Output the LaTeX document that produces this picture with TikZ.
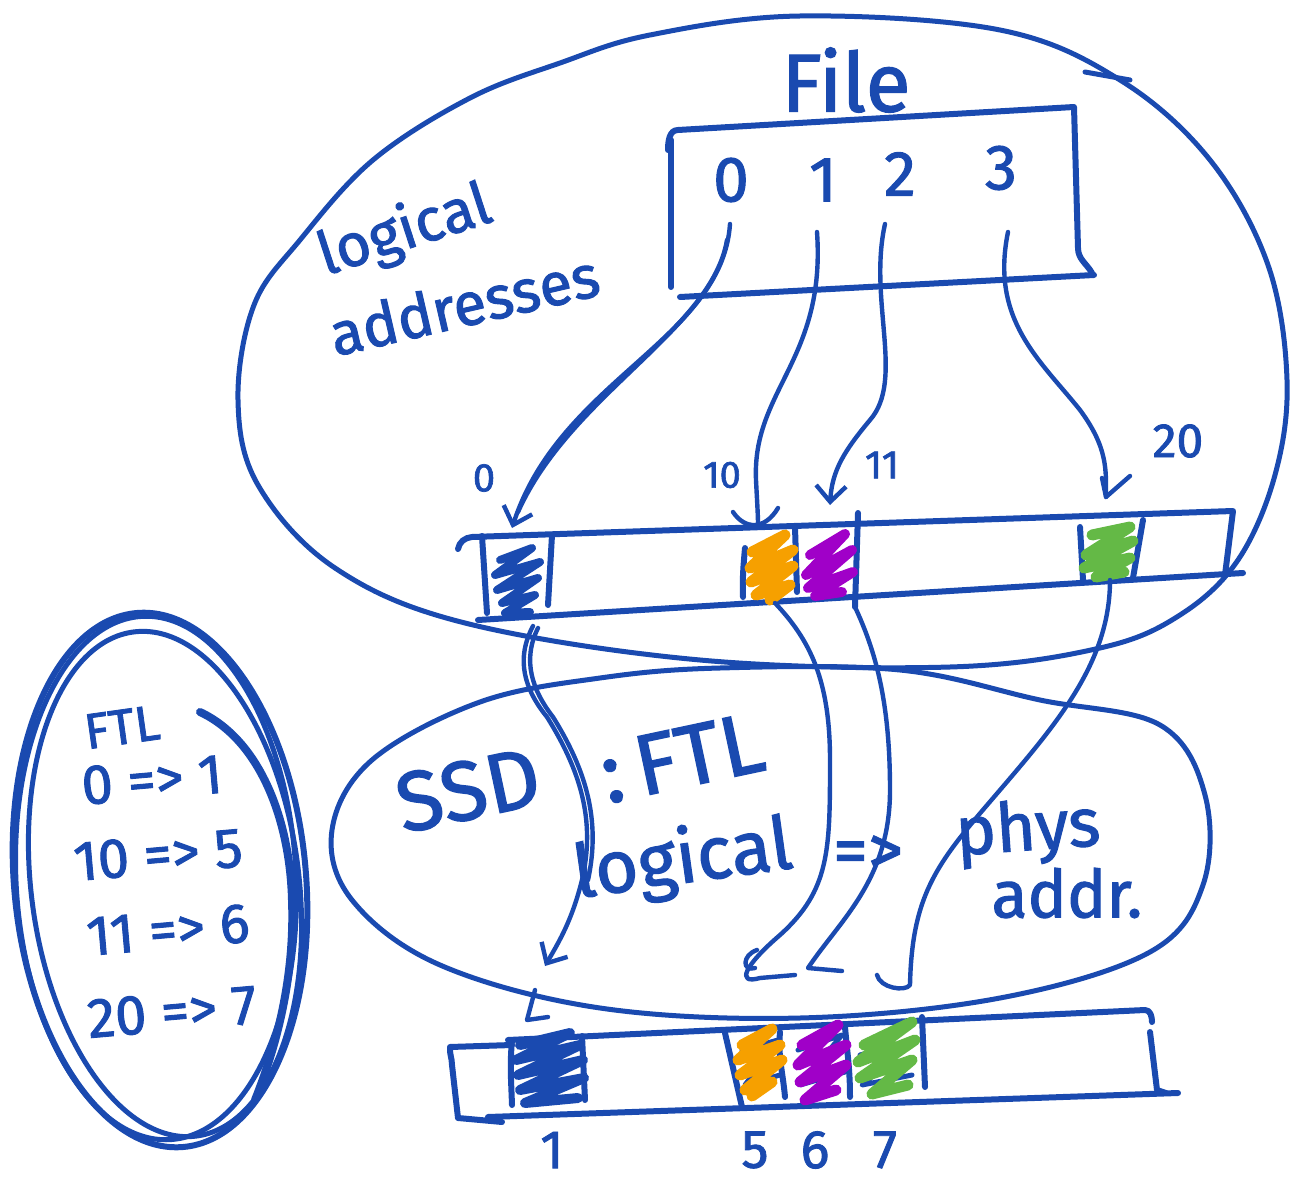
\documentclass[tikz,border=0pt]{standalone}
\usepackage{fontspec}
\setmainfont{Fira Sans}[FakeBold=1.6]
\usetikzlibrary{arrows.meta}
\definecolor{ink}{RGB}{26,74,176}
\definecolor{inkorange}{RGB}{246,160,0}
\definecolor{inkpurple}{RGB}{160,0,200}
\definecolor{inkgreen}{RGB}{100,185,70}
\tikzset{
  pen/.style={draw=ink, line width=6pt, line cap=round, line join=round},
  conn/.style={draw=ink, line width=4.4pt, line cap=round, line join=round},
  tip/.style={-{Straight Barb[length=16pt,width=30pt,line width=4.4pt]}},
  scrib/.style={line width=#1, line cap=round, line join=round},
  hand/.style={text=ink, inner sep=0pt},
}
\newcommand{\fs}[1]{\fontsize{#1}{#1}\selectfont}
\begin{document}
\begin{tikzpicture}[x=1pt,y=-1pt]
\fill[white] (0,0) rectangle (1296,1190);
\useasboundingbox (0,0) rectangle (1296,1190);

% ---------- big ellipse (logical addresses)
\draw[pen, line width=5pt] plot[smooth cycle, tension=0.6] coordinates {
 (800,16) (1000,30) (1120,80) (1210,160) (1268,265) (1287,380) (1275,475)
 (1238,560) (1180,615) (1100,648) (950,667) (700,660) (465,623)
 (335,568) (258,485) (238,400) (254,305) (300,240) (373,160) (470,98)
 (560,63) (650,35)};
\draw[pen, line width=5pt] (1085,72) -- (1130,80);

% ---------- SSD ellipse
\draw[pen, line width=5pt] plot[smooth cycle, tension=0.6] coordinates {
 (720,668) (900,670) (1040,700) (1160,725) (1205,795) (1203,885) (1150,952)
 (1000,998) (800,1018) (600,1008) (440,965) (352,900) (332,830) (372,760)
 (480,702) (600,678)};

% ---------- File box
\node[hand, font=\fs{82}] (file) at (846,80) {File};
\draw[pen] (668,150) to[out=90,in=180] (678,130) -- (1074,107) -- (1078,248)
  to[out=-90,in=120] (1092,273);
\draw[pen] (671,140) -- (671,287);
\draw[pen] (680,297) -- (1094,275);
\node[hand, font=\fs{64}] (n0) at (731,180) {0};
\node[hand, font=\fs{64}] (n1) at (823,180) {1};
\node[hand, font=\fs{64}] (n2) at (900,174) {2};
\node[hand, font=\fs{64}] (n3) at (1001,168) {3};
\coordinate (f0) at (730,224);
\coordinate (f1) at (817,232);
\coordinate (f2) at (885,224);
\coordinate (f3) at (1008,232);

% ---------- logical addresses
\node[hand, font=\fs{60}, rotate=18] (lg) at (405,232) {logical};
\node[hand, font=\fs{60}, rotate=13] (ad) at (464,304) {addresses};

% ---------- top strip
\draw[pen] (458,549) to[out=80,in=185] (472,537) -- (1233,511) -- (1225,575);
\draw[pen] (478,620) -- (1243,573);
\draw[pen] (482,536) -- (487,613);
\draw[pen] (552,535) -- (548,605);
\draw[pen] (745,548) to[out=-95,in=92] (743,597);
\draw[pen] (795,527) -- (797,592);
\draw[pen] (858,513) -- (855,607);
\draw[pen] (1080,527) -- (1083,580);
\draw[pen] (1143,520) -- (1133,578);
% scribbles top
\draw[ink, scrib=8pt] plot coordinates {(500,560) (532,548) (495,575) (540,562) (497,590) (538,578) (502,603) (535,595) (505,613) (530,612)};
\draw[inkorange, scrib=11pt] plot coordinates {(752,552) (785,535) (750,568) (793,550) (751,582) (793,566) (756,595) (790,585) (770,600)};
\draw[inkpurple, scrib=10pt] plot coordinates {(810,555) (845,534) (806,575) (852,550) (808,588) (853,572) (815,596) (842,592)};
\draw[inkgreen, scrib=11pt] plot coordinates {(1092,535) (1130,527) (1086,555) (1133,541) (1084,568) (1130,558) (1096,577) (1124,572)};

% labels top strip
\node[hand, font=\fs{40}] (l0) at (484,478) {0};
\node[hand, font=\fs{38}] (l10) at (722,475) {10};
\node[hand, font=\fs{40}] (l11) at (882,465) {11};
\node[hand, font=\fs{48}] (l20) at (1178,441) {20};

\coordinate (c0) at (512,528);
\coordinate (c1) at (758,524);
\coordinate (c2) at (830,505);
\coordinate (c3) at (1106,497);

% connectors file -> strip
\draw[conn, tip] (f0) .. controls (722,340) and (560,380) .. (c0);
\draw[conn] (727,240) .. controls (712,330) and (570,395) .. (518,512);
\draw[conn] (f1) .. controls (826,360) and (752,390) .. (756,480) .. controls (757,500) and (758,515) .. (c1);
\draw[conn] (733,512) .. controls (745,530) and (765,530) .. (778,508);
\draw[conn, tip] (f2) .. controls (868,300) and (905,380) .. (870,420) .. controls (845,450) and (832,470) .. (c2);
\draw[conn] (f3) .. controls (990,320) and (1040,360) .. (1080,410) .. controls (1108,448) and (1106,470) .. (c3);
\draw[conn] (1102,478) -- (c3) -- (1130,476);

% ---------- connectors strip -> physical
\coordinate (p0) at (545,966);
\coordinate (p5) at (760,978);
\coordinate (p6) at (808,968);
\coordinate (p7) at (877,975);
\draw[conn, tip] (533,626) .. controls (515,660) and (525,690) .. (547,717) .. controls (580,770) and (596,820) .. (582,880) .. controls (572,920) and (560,940) .. (p0);
\draw[conn] (538,628) .. controls (522,660) and (532,690) .. (553,717) .. controls (586,770) and (601,820) .. (588,880);
\draw[conn] (535,990) -- (527,1020) -- (548,1017);
\draw[conn] (775,603) .. controls (810,640) and (830,680) .. (830,760) .. controls (830,850) and (830,890) .. (780,935) .. controls (745,965) and (735,985) .. (p5) -- (795,975);
\draw[conn] (757,950) .. controls (742,955) and (742,972) .. (755,968);
\draw[conn] (855,607) .. controls (875,650) and (890,700) .. (890,790) .. controls (890,880) and (840,920) .. (p6) -- (842,971);
\draw[conn] (1110,580) .. controls (1110,660) and (1060,720) .. (1000,790) .. controls (940,860) and (912,890) .. (910,985) .. controls (905,992) and (880,988) .. (p7);

% ---------- SSD text
\node[hand, font=\fs{84}, rotate=12] (ssd) at (468,790) {SSD};
\node[hand, font=\fs{86}, rotate=12] (ftl) at (682,758) {:\,FTL};
\node[hand, font=\fs{74}, rotate=8] (lgc) at (683,862) {logical};
\node[hand, font=\fs{70}] (arr) at (868,855) {=>};
\node[hand, font=\fs{68}, rotate=4] (phys) at (1028,832) {phys};
\node[hand, font=\fs{66}] (addr) at (1067,893) {addr.};

% ---------- bottom strip
\draw[pen] (512,1045) -- (450,1047) to[out=-95,in=90] (452,1065) -- (458,1118) -- (502,1122);
\draw[pen] (508,1040) -- (1145,1010) to[out=0,in=90] (1152,1022);
\draw[pen] (1150,1032) -- (1157,1090) -- (1166,1093);
\draw[pen] (488,1117) -- (1178,1093);
\draw[pen] (512,1040) to[out=-95,in=92] (512,1105);
\draw[pen] (582,1036) -- (585,1100);
\draw[pen] (725,1033) -- (742,1107);
\draw[pen] (780,1032) to[out=-95,in=95] (785,1097);
\draw[pen] (845,1027) to[out=-85,in=90] (850,1097);
\draw[pen] (922,1017) -- (925,1087);
\draw[ink, scrib=10pt] plot coordinates {(520,1045) (570,1033) (516,1060) (580,1045) (518,1075) (583,1060) (520,1090) (584,1078) (525,1103) (578,1098)};
\draw[ink, scrib=5pt] plot coordinates {(742,1050) (778,1040) (745,1085) (780,1075)};
\draw[ink, scrib=5pt] plot coordinates {(798,1050) (842,1035) (800,1085) (845,1072)};
\draw[ink, scrib=5pt] plot coordinates {(860,1055) (915,1040) (862,1085) (912,1075)};
\draw[inkorange, scrib=11pt] plot coordinates {(742,1045) (772,1029) (738,1060) (780,1045) (740,1075) (782,1060) (745,1090) (772,1082) (752,1096)};
\draw[inkpurple, scrib=11pt] plot coordinates {(802,1045) (838,1025) (798,1065) (846,1045) (800,1082) (846,1065) (805,1100) (836,1090)};
\draw[inkgreen, scrib=11pt] plot coordinates {(864,1045) (912,1022) (858,1062) (915,1040) (860,1078) (912,1060) (872,1094) (908,1085)};
\node[hand, font=\fs{54}] (b1) at (552,1150) {1};
\node[hand, font=\fs{54}] (b5) at (755,1150) {5};
\node[hand, font=\fs{54}] (b6) at (815,1150) {6};
\node[hand, font=\fs{54}] (b7) at (885,1150) {7};

% ---------- FTL table ellipse
\draw[pen, line width=6pt, rotate around={5:(160,880)}] (160,880) ellipse [x radius=146, y radius=268];
\draw[pen, line width=5pt, rotate around={7:(165,884)}] (165,884) ellipse [x radius=134, y radius=254];
\draw[pen, line width=5pt, rotate around={3:(156,878)}] (156,878) ellipse [x radius=140, y radius=262];
\draw[pen, line width=8pt] (200,712) .. controls (260,740) and (290,820) .. (292,900) .. controls (295,980) and (275,1050) .. (255,1100);
\node[hand, font=\fs{50}, rotate=8] (tftl) at (122,727) {FTL};
\node[hand, font=\fs{56}, rotate=5] (t0) at (152,780) {0 => 1};
\node[hand, font=\fs{56}, rotate=5] (t10) at (158,855) {10 => 5};
\node[hand, font=\fs{56}, rotate=5] (t11) at (168,930) {11 => 6};
\node[hand, font=\fs{56}, rotate=5] (t20) at (172,1012) {20 => 7};
\end{tikzpicture}
\end{document}
